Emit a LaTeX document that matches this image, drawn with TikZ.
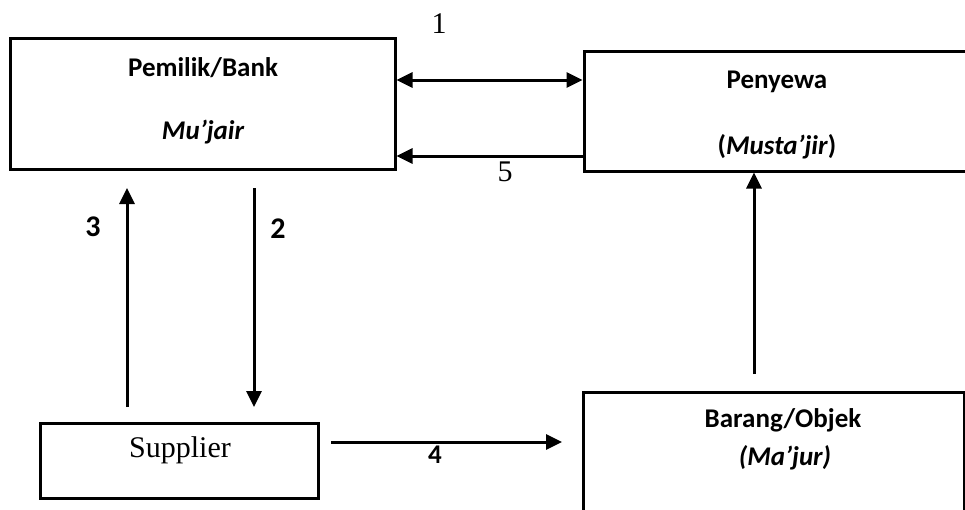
\documentclass[tikz,border=0pt]{standalone}
\usepackage{fontspec}
\setmainfont{Liberation Serif}
\newfontfamily\calfont{Carlito}
\usetikzlibrary{arrows.meta}
\begin{document}
\begin{tikzpicture}[x=1pt,y=-1pt,
  box/.style={draw=black,line width=3pt,rectangle,inner sep=0pt},
  lbl/.style={inner sep=0pt,font=\calfont\bfseries\fontsize{27}{30}\selectfont},
  lbli/.style={inner sep=0pt,font=\calfont\bfseries\itshape\fontsize{27}{30}\selectfont},
  num/.style={inner sep=0pt,font=\fontsize{30}{34}\selectfont},
  snum/.style={inner sep=0pt,font=\calfont\bfseries\fontsize{30}{34}\selectfont},
  arr/.style={line width=3pt,-{Triangle[length=16pt,width=15pt]}},
  darr/.style={line width=3pt,{Triangle[length=16pt,width=15pt]}-{Triangle[length=16pt,width=15pt]}}]
\useasboundingbox (0,0) rectangle (965,509);
\clip (0,0) rectangle (965,509);
\fill[white] (0,0) rectangle (965,509);
% boxes
\node[box,minimum width=385pt,minimum height=131pt] (pem) at (202.5,103.5) {};
\node[box,minimum width=386pt,minimum height=120pt] (pen) at (777,111) {};
\node[box,minimum width=278pt,minimum height=75pt] (sup) at (179,460.5) {};
\node[box,minimum width=381pt,minimum height=150pt] (bar) at (773.5,467) {};
% texts
\node[lbl] (pemA) at (203,68) {Pemilik/Bank};
\node[lbli] (pemB) at (203,132) {Mu’jair};
\node[lbl] (penA) at (777,82) {Penyewa};
\node[lbl] (penB) at (777,147) {(\textit{Musta’jir})};
\node[num] (supA) at (180,450) {Supplier};
\node[lbl] (barA) at (783,420) {Barang/Objek};
\node[lbli] (barB) at (785,458) {(Ma’jur)};
% coordinates
\coordinate (y1) at (0,80);
\coordinate (y5) at (0,156);
\coordinate (a3s) at (127,407);
\coordinate (a3e) at (127,188);
\coordinate (a2s) at (254,188);
\coordinate (a2e) at (254,407);
\coordinate (a4s) at (331,442);
\coordinate (a4e) at (562,442);
\coordinate (a6s) at (754,374);
% connectors
\draw[darr] (pem.east |- y1) -- (pen.west |- y1);
\draw[arr] (pen.west |- y5) -- (pem.east |- y5);
\draw[arr] (a3s) -- (a3e);
\draw[arr] (a2s) -- (a2e);
\draw[arr] (a4s) -- (a4e);
\draw[arr] (a6s) -- (a6s |- pen.south);
% labels
\node[num] (n1) at (439,24) {1};
\node[num] (n5) at (505,172) {5};
\node[snum] (n3) at (93,227) {3};
\node[snum] (n2) at (278,229) {2};
\node[snum,font=\calfont\bfseries\fontsize{27}{30}\selectfont] (n4) at (435,455) {4};
\end{tikzpicture}
\end{document}
